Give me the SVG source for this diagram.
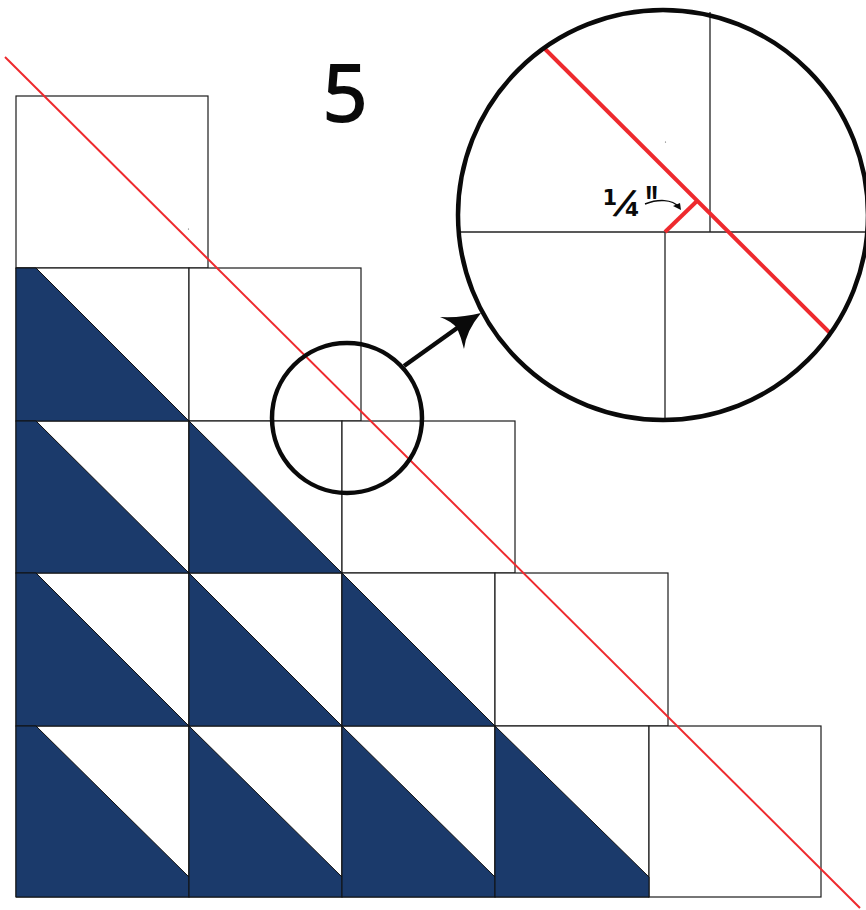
<svg xmlns="http://www.w3.org/2000/svg" width="866" height="910" viewBox="0 0 866 910">
<style>
.cell{fill:#fff;stroke:#1c1c1c;stroke-width:1.2}
.blue{fill:#1b3a6b;stroke:#111;stroke-width:1}
.thin{fill:none;stroke:#222;stroke-width:1.3}
.ring{fill:none;stroke:#0a0a0a;stroke-width:4.5}
.red{fill:none;stroke:#ee2a2e;stroke-linecap:butt}
.lbl{font-family:'Open Sans','Liberation Sans',sans-serif;fill:#0a0a0a}
</style>
<rect width="866" height="910" fill="#fff"/>
<g id="grid">
<rect class="cell" x="16" y="96" width="192" height="172"/>
<rect class="cell" x="16" y="268" width="173" height="153"/>
<rect class="cell" x="189" y="268" width="172" height="153"/>
<rect class="cell" x="16" y="421" width="173" height="152"/>
<rect class="cell" x="189" y="421" width="153" height="152"/>
<rect class="cell" x="342" y="421" width="173" height="152"/>
<rect class="cell" x="16" y="573" width="173" height="153"/>
<rect class="cell" x="189" y="573" width="153" height="153"/>
<rect class="cell" x="342" y="573" width="153" height="153"/>
<rect class="cell" x="495" y="573" width="173" height="153"/>
<rect class="cell" x="16" y="726" width="173" height="171"/>
<rect class="cell" x="189" y="726" width="153" height="171"/>
<rect class="cell" x="342" y="726" width="153" height="171"/>
<rect class="cell" x="495" y="726" width="154" height="171"/>
<rect class="cell" x="649" y="726" width="172" height="171"/>
<circle cx="188.500" cy="229" r="0.6" fill="#555"/>
</g>
<g id="triangles">
<polygon class="blue" points="16,268 36,268 189,421 16,421"/>
<polygon class="blue" points="16,421 36,421 189,573 16,573"/>
<polygon class="blue" points="189,421 342,573 189,573"/>
<polygon class="blue" points="16,573 36,573 189,726 16,726"/>
<polygon class="blue" points="189,573 342,726 189,726"/>
<polygon class="blue" points="342,573 495,726 342,726"/>
<polygon class="blue" points="16,726 36,726 189,877 189,897 16,897"/>
<polygon class="blue" points="189,726 342,877 342,897 189,897"/>
<polygon class="blue" points="342,726 495,877 495,897 342,897"/>
<polygon class="blue" points="495,726 649,877 649,897 495,897"/>
</g>
<g id="connectors">
<line class="red" x1="5" y1="57" x2="860" y2="908" stroke-width="2"/>
<circle id="small-circle" class="ring" cx="347" cy="418" r="75"/>
<line x1="404" y1="366" x2="460" y2="326" stroke="#0a0a0a" stroke-width="4.5"/>
<path d="M440,317 Q462,318 481,313 Q466,331 464,349 Q461,337 457,328 Q451,321 440,317 Z" fill="#0a0a0a"/>
</g>
<g id="detail">
<circle cx="663" cy="215" r="205" fill="#fff"/>
<line class="thin" x1="710" y1="12" x2="710" y2="232"/>
<line class="thin" x1="459" y1="232" x2="866" y2="232"/>
<line class="thin" x1="665" y1="232" x2="665" y2="420"/>
<circle cx="665.500" cy="142" r="0.6" fill="#555"/>
<line class="red" x1="545" y1="49" x2="831" y2="334" stroke-width="4"/>
<line class="red" x1="665" y1="232" x2="697" y2="201" stroke-width="4"/>
<circle class="ring" cx="663" cy="215" r="205"/>
<path d="M645 204 C658 199 672 199 679 207" fill="none" stroke="#0a0a0a" stroke-width="1.4"/>
<polygon points="681,210 673,206 680,203" fill="#0a0a0a"/>
<text font-family="'DejaVu Sans','Liberation Sans',sans-serif" fill="#0a0a0a" font-size="21" font-weight="700"><tspan x="602.500" y="205">1</tspan><tspan x="620" y="217" font-family="'Open Sans','Liberation Sans',sans-serif" font-size="40" font-weight="600" rotate="8">⁄</tspan><tspan x="625" y="216" font-size="20">4</tspan></text>
<text class="lbl" transform="translate(645 222) scale(1.35 2.4)" font-size="21" font-weight="700">"</text>
</g>
<g id="step-number">
<text class="lbl" x="345" y="121" text-anchor="middle" font-size="78" font-weight="500" stroke="#0a0a0a" stroke-width="2.2">5</text>
</g>
</svg>
